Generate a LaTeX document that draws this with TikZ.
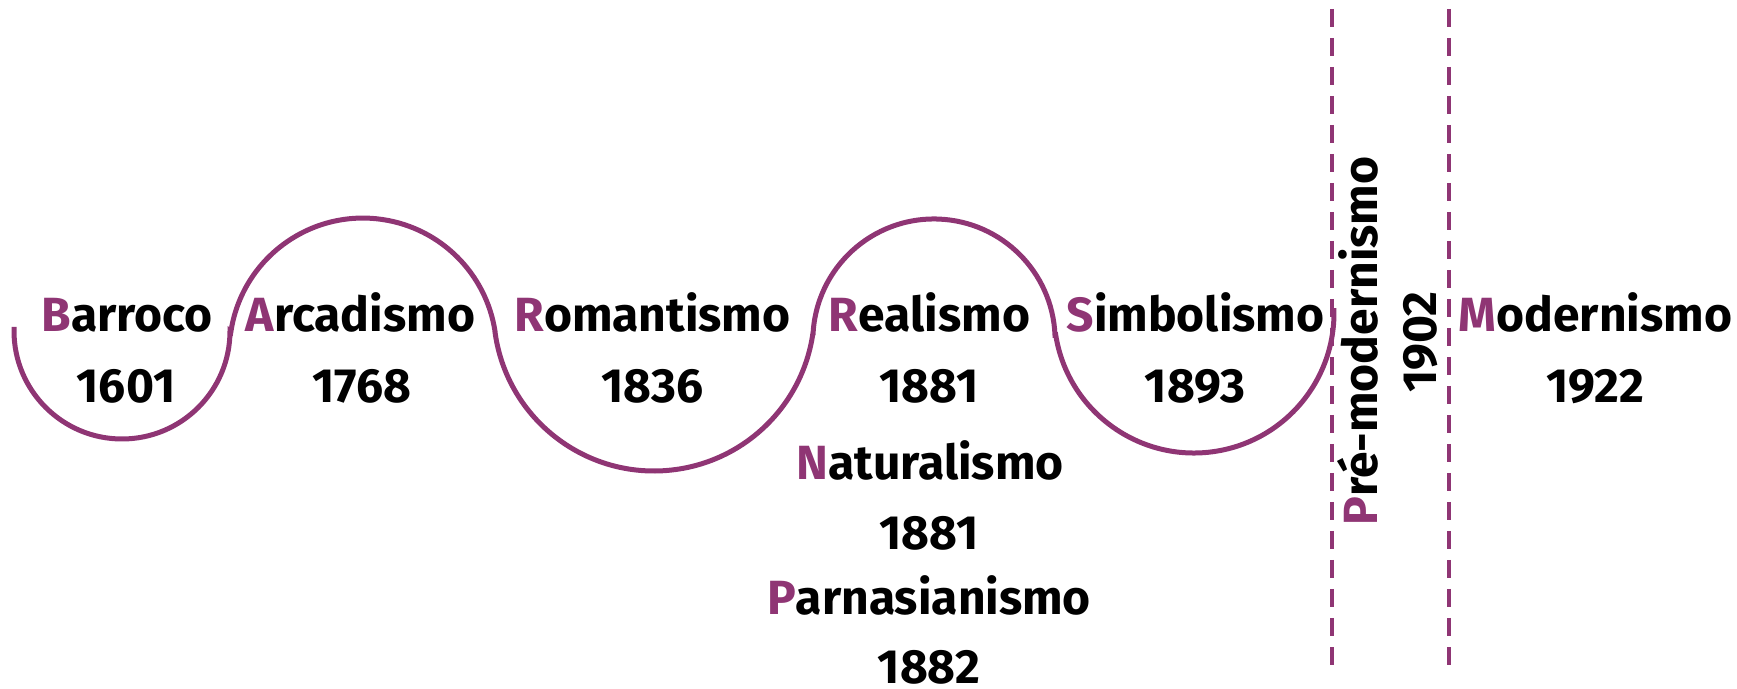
\documentclass[tikz,border=0pt]{standalone}
\usepackage{fontspec}
\setmainfont{Fira Sans}
\definecolor{pur}{RGB}{143,53,116}
\newcommand\FirstL[1]{\textcolor{pur}{#1}}
\begin{document}
\begin{tikzpicture}[x=1pt,y=1pt,
  lbl/.style={font=\fontsize{48}{56}\selectfont\bfseries, anchor=base, inner sep=0pt, text=black},
  wave/.style={draw=pur, line width=5pt},
  sepline/.style={draw=pur, line width=3.3pt, dash pattern=on 18pt off 11pt}]
\useasboundingbox (0,0) rectangle (1737,688);

% wave of arcs
\draw[wave] (14,361) -- (14,357)
  arc[start angle=180, end angle=360, radius=108]
  -- (230.9,356.3) arc[start angle=171.4, end angle=8.6, radius=133.6]
  -- (495,356) arc[start angle=187.7, end angle=352.3, radius=160.5]
  -- (813,353) arc[start angle=177.6, end angle=2.4, radius=121.1]
  -- (1055.7,353.1) arc[start angle=189, end angle=362, radius=140];

% dashed separators
\coordinate (s1t) at (1332,679);
\coordinate (s1b) at (1332,16);
\coordinate (s2t) at (1449,679);
\coordinate (s2b) at (1449,16);
\draw[sepline] (s1t) -- (s1b);
\draw[sepline] (s2t) -- (s2b);

% labels
\node[lbl] (barroco) at (127,356) {\FirstL{B}arroco};
\node[lbl] (y1601) at (126,285) {1601};
\node[lbl] (arcad) at (360.5,356) {\FirstL{A}rcadismo};
\node[lbl] (y1768) at (362,285) {1768};
\node[lbl] (roman) at (652.5,356) {\FirstL{R}omantismo};
\node[lbl] (y1836) at (652.5,285) {1836};
\node[lbl] (real) at (929.5,356) {\FirstL{R}ealismo};
\node[lbl] (y1881a) at (929,285) {1881};
\node[lbl] (simb) at (1195.5,356) {\FirstL{S}imbolismo};
\node[lbl] (y1893) at (1195,285) {1893};
\node[lbl] (modern) at (1595.5,356) {\FirstL{M}odernismo};
\node[lbl] (y1922) at (1595,285) {1922};
\node[lbl] (natur) at (930,208) {\FirstL{N}aturalismo};
\node[lbl] (y1881b) at (929,138) {1881};
\node[lbl] (parn) at (929,73) {\FirstL{P}arnasianismo};
\node[lbl] (y1882) at (929,5) {1882};
\node[lbl, rotate=90] (premod) at (1377,347) {\FirstL{P}ré-modernismo};
\node[lbl, rotate=90] (y1902) at (1436,346) {1902};
\end{tikzpicture}
\end{document}
